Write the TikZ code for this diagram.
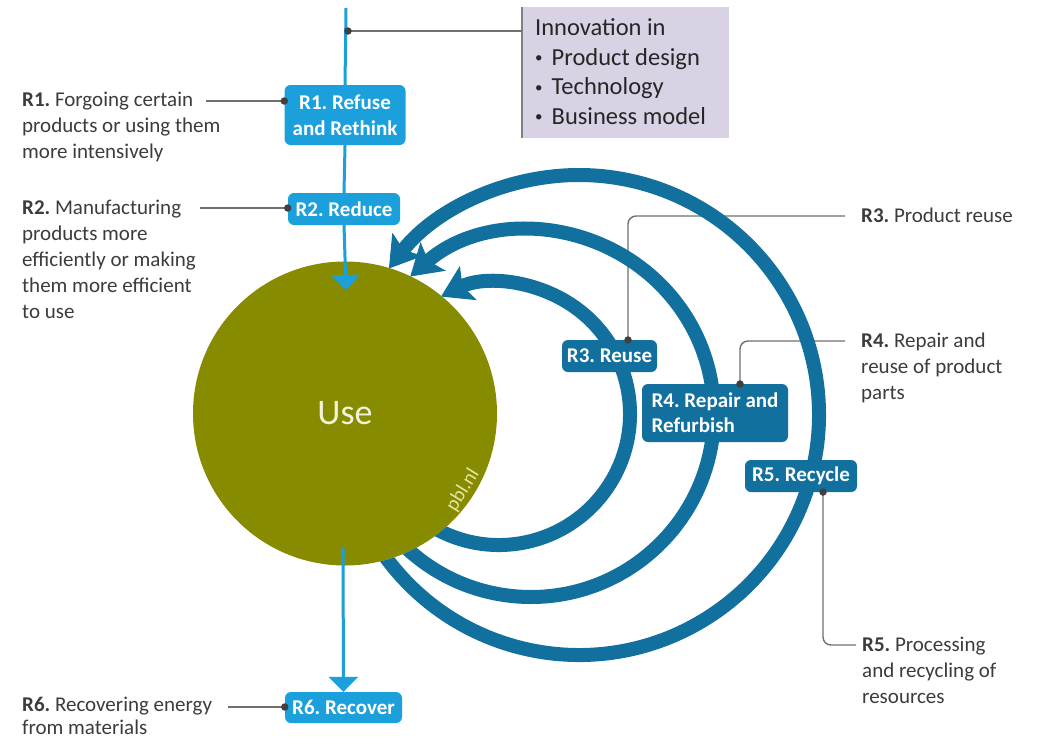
\documentclass[tikz,border=0pt]{standalone}
\usepackage{fontspec}
\setmainfont{Carlito}
\usetikzlibrary{arrows.meta,calc}
\definecolor{lblue}{HTML}{1BA0DB}
\definecolor{dblue}{HTML}{12709E}
\definecolor{olivec}{HTML}{878B00}
\definecolor{lav}{HTML}{D9D1E4}
\definecolor{gline}{HTML}{707070}
\definecolor{txt}{HTML}{3C3C3C}
\definecolor{cream}{HTML}{F2F2DA}
\definecolor{pale}{HTML}{E6E4A0}
\newcommand{\mybul}{\raisebox{2.5pt}{\fontsize{15}{15}\selectfont\textbullet}\hspace{9pt}}
\begin{document}
\frenchspacing
\begin{tikzpicture}[x=1pt,y=1pt,
  desc/.style={inner sep=0pt, anchor=north west, align=left, text=txt, font=\fontsize{21}{26}\selectfont},
  lbox/.style={fill=lblue, rounded corners=6pt, text=white, font=\bfseries\fontsize{21}{26}\selectfont, inner sep=0pt, align=center},
  dbox/.style={fill=dblue, rounded corners=6pt, text=white, font=\bfseries\fontsize{21}{25}\selectfont, inner sep=0pt},
  conn/.style={draw=gline, line width=1.4pt},
  dotc/.style={circle, fill=black!75, inner sep=0pt, minimum size=7.5pt},
  ring/.style={draw=dblue, line width=14pt, -{Stealth[length=30pt,width=37pt,inset=6pt]}},
  flow/.style={draw=lblue, line width=3pt}
]
\useasboundingbox[fill=white] (0,0) rectangle (1038,-750);

% boxes on the flow line
\node[lbox, minimum width=121pt, minimum height=60pt] (r1) at (345,-115) {R1. Refuse\\and Rethink};
\node[lbox, minimum width=112pt, minimum height=32pt] (r2) at (344,-209) {R2. Reduce};
\node[lbox, minimum width=117pt, minimum height=31pt] (r6) at (343.5,-707.5) {R6. Recover};

% innovation box
\node[fill=lav, inner sep=0pt, minimum width=207pt, minimum height=131pt, anchor=north west] (inno) at (522,-7) {};
\draw[draw=gray, line width=1.2pt] (inno.north west) -- (inno.south west);
\node[inner sep=0pt, anchor=north west, align=left, text=black!85, font=\fontsize{24.5}{29.5}\selectfont] (innotxt) at (535,-18.5)
 {Innovation in\\\mybul Product design\\\mybul Technology\\\mybul Business model};

% descriptions left
\node[desc] (d1) at (22,-91.5) {\textbf{R1.} Forgoing certain\\products or using them\\more intensively};
\node[desc] (d2) at (22,-199.5) {\textbf{R2.} Manufacturing\\products more\\efficiently or making\\them more efficient\\to use};
\node[desc, font=\fontsize{21}{23}\selectfont] (d6) at (22,-696.5) {\textbf{R6.} Recovering energy\\from materials};

% descriptions right
\node[desc] (d3) at (861,-207.5) {\textbf{R3.} Product reuse};
\node[desc] (d4) at (861,-332.5) {\textbf{R4.} Repair and\\reuse of product\\parts};
\node[desc] (d5) at (862,-636.5) {\textbf{R5.} Processing\\and recycling of\\resources};

% dark boxes (positions)
\coordinate (r3p) at (609.5,-356);
\coordinate (r4p) at (715,-413);
\coordinate (r5p) at (801,-476);

% left connectors
\coordinate (c1) at (206,-101);
\coordinate (c2) at (200,-208);
\coordinate (c6) at (228,-707);
\draw[conn] (c1) -- (r1.west |- c1) node[dotc] {};
\draw[conn] (c2) -- (r2.west |- c2) node[dotc] {};
\draw[conn] (c6) -- (r6.west |- c6) node[dotc] {};

% right connectors (behind rings)
\coordinate (c3) at (845,-216);
\coordinate (c4) at (845,-341);
\coordinate (c5) at (856,-645);
\coordinate (r3d) at (628,-340);
\coordinate (r4d) at (740,-384);
\coordinate (r5d) at (823,-492);
\draw[conn, rounded corners=8pt] (c3) -| (r3d);
\draw[conn, rounded corners=8pt] (c4) -| (r4d);
\draw[conn, rounded corners=8pt] (r5d) |- (c5);

% Use circle
\node[circle, fill=olivec, minimum size=304pt, inner sep=0pt, text=cream, font=\fontsize{36}{36}\selectfont] (use) at (345,-413.5) {Use};
\node[rotate=58, text=pale, inner sep=0pt, font=\fontsize{20}{20}\selectfont] (pbl) at (463,-490) {pbl.nl};

% rings
\coordinate (k1) at (499,-414);
\coordinate (k2) at (531,-414);
\coordinate (k3) at (579,-415);
\begin{scope}[even odd rule]
\clip (0,0) rectangle (1038,-750) (use.center) circle[radius=152];
\draw[ring] ($(k1)+(-125:131)$) arc[start angle=-125, end angle=116.3, radius=131];
\draw[ring] ($(k2)+(-138:183)$) arc[start angle=-138, end angle=131.3, radius=183];
\draw[ring] ($(k3)+(-148:240)$) arc[start angle=-148, end angle=142.4, radius=240];
\end{scope}

% dark boxes
\node[dbox, minimum width=95pt, minimum height=32pt] (r3) at (r3p) {R3. Reuse};
\node[dbox, minimum width=146pt, minimum height=58pt, align=left] (r4) at (r4p) {R4. Repair and\\Refurbish};
\node[dbox, minimum width=112pt, minimum height=32pt] (r5) at (r5p) {R5. Recycle};
\node[dotc] at (r3d) {};
\node[dotc] at (r4d) {};
\node[dotc] at (r5d) {};

% flow line
\coordinate (top) at (346,-8);
\coordinate (usetip) at (346,-290);
\coordinate (usebot) at (343,-548);
\draw[flow] (top) -- (r1.north);
\draw[flow] (r1.south) -- (r2.north);
\draw[flow, -{Triangle[length=15pt,width=28pt]}] (r2.south) -- (usetip);
\draw[flow, -{Triangle[length=15pt,width=29pt]}] (usebot) -- (r6.north);
\coordinate (idot) at (348,-31);
\draw[conn] (idot) -- (inno.west |- idot);
\node[dotc] at (idot) {};
\end{tikzpicture}
\end{document}
